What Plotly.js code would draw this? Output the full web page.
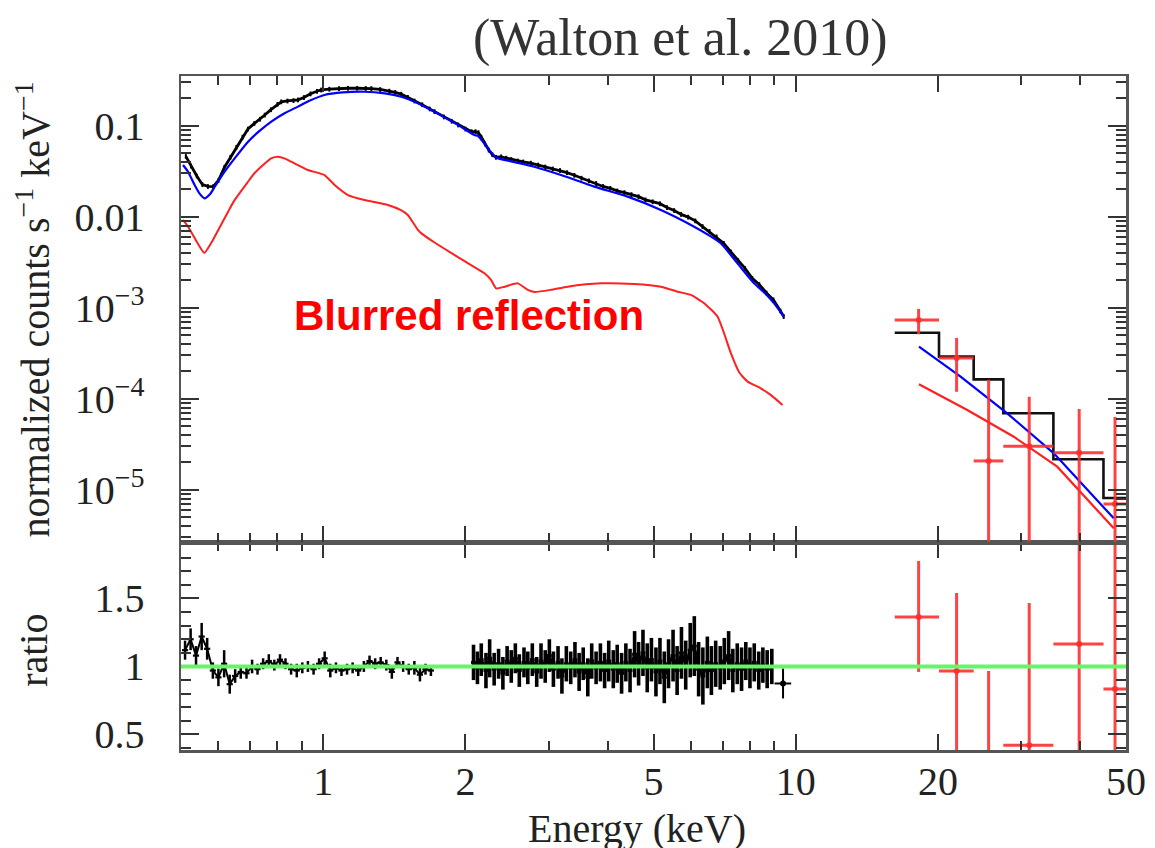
<!DOCTYPE html>
<html>
<head>
<meta charset="utf-8">
<script src="https://cdn.plot.ly/plotly-3.0.1.min.js"></script>
<style>html,body{margin:0;padding:0;background:#fff;}#chart{width:1155px;height:848px;}</style>
</head>
<body>
<div id="chart"></div>
<script>
// ---------- XMM data (top panel, counts) ----------
var xmmE = [0.512,0.525,0.540,0.555,0.570,0.585,0.600,0.618,0.636,0.655,0.675,0.693,0.715,0.735,0.752,0.775,0.800,0.815,0.840,0.865,0.884,0.910,0.940,0.970,0.990,1.030,1.080,1.128,1.180,1.230,1.264,1.320,1.380,1.420,1.462,1.510,1.560,1.620,1.680,1.720,1.800,1.870,1.930,2.000,2.060,2.100,2.130,2.160,2.200,2.240,2.280,2.320,2.380,2.440,2.500,2.580,2.650,2.750,2.850,2.950,3.060,3.170,3.280,3.400,3.520,3.650,3.780,3.910,4.050,4.190,4.340,4.490,4.650,4.810,4.980,5.160,5.340,5.530,5.720,5.920,6.130,6.350,6.570,6.800,7.040,7.290,7.550,7.810,8.090,8.370,8.670,8.970,9.280,9.430];
var xmmV = [0.046,0.036,0.028,0.0225,0.0215,0.0214,0.025,0.035,0.045,0.058,0.075,0.092,0.106,0.118,0.131,0.150,0.172,0.183,0.187,0.189,0.192,0.204,0.224,0.239,0.247,0.252,0.256,0.258,0.258,0.257,0.256,0.250,0.240,0.232,0.222,0.205,0.187,0.170,0.153,0.143,0.125,0.112,0.102,0.092,0.086,0.086,0.084,0.075,0.063,0.054,0.048,0.045,0.0455,0.0440,0.0425,0.0410,0.0400,0.0388,0.0370,0.0352,0.0335,0.0322,0.0305,0.0285,0.0265,0.0248,0.0232,0.0215,0.0205,0.0192,0.0184,0.0175,0.0166,0.0153,0.0146,0.0139,0.0126,0.0117,0.0106,0.0099,0.0090,0.0078,0.0069,0.0060,0.0051,0.0041,0.0033,0.0027,0.0021,0.0018,0.00145,0.00122,0.00092,0.0008];

// ---------- total model (blue) ----------
var modelE = [0.505,0.5174,0.535,0.548,0.561,0.575,0.590,0.6184,0.650,0.6933,0.730,0.7764,0.830,0.8841,0.940,1.006,1.100,1.223,1.350,1.462,1.560,1.719,1.927,2.089,2.124,2.170,2.230,2.300,2.341,2.500,2.797,3.185,3.746,4.409,5.183,6.096,6.500,6.939,7.528,8.163,8.600,8.998,9.447];
var modelV = [0.037,0.0312,0.022,0.0178,0.0159,0.0175,0.0215,0.0312,0.044,0.0667,0.086,0.111,0.138,0.162,0.190,0.2175,0.232,0.236,0.226,0.208,0.1835,0.1425,0.102,0.079,0.0775,0.068,0.0564,0.0465,0.0440,0.0405,0.0354,0.0287,0.0214,0.0166,0.01185,0.00777,0.0064,0.0051,0.003075,0.001854,0.00145,0.001118,0.000796];

// ---------- blurred reflection (red) ----------
var reflE = [0.505,0.518,0.540,0.560,0.580,0.600,0.629,0.648,0.693,0.715,0.750,0.776,0.802,0.830,0.856,0.928,1.006,1.060,1.128,1.223,1.370,1.460,1.510,1.588,1.611,1.720,1.865,2.000,2.190,2.265,2.322,2.420,2.580,2.710,2.800,3.030,3.290,3.870,4.550,5.180,5.620,6.000,6.400,6.830,7.055,7.290,7.590,7.910,8.430,8.850,9.375];
var reflV = [0.0092,0.0077,0.0053,0.0040,0.0052,0.0072,0.01135,0.0150,0.0242,0.0300,0.0380,0.0438,0.0456,0.0435,0.0402,0.0326,0.0287,0.0220,0.0173,0.01526,0.01344,0.0118,0.01044,0.0071,0.0066,0.0052,0.0040,0.0032,0.0024,0.00202,0.00163,0.0017,0.00185,0.00157,0.00149,0.00157,0.0017,0.00185,0.00182,0.0017,0.0015,0.00138,0.00112,0.00080,0.00052,0.000316,0.000195,0.000154,0.00013,0.00011,0.0000853];

// ---------- PIN (hard X-ray) ----------
var pinE    = [18.2, 21.9, 25.6, 31.2, 39.8, 47.4];
var pinXlo  = [16.2, 20.1, 23.8, 27.5, 35.1, 44.8];
var pinXhi  = [20.1, 23.8, 27.5, 35.1, 44.8, 56.0];
var pinV    = [7.33e-4, 2.8e-4, 2.07e-5, 3.0e-5, 2.55e-5, 6.97e-6];
var pinVhi  = [9.7e-4, 4.65e-4, 1.61e-4, 1.05e-4, 7.7e-5, 6.3e-5];
var pinVlo  = [5.1e-4, 1.19e-4, 1e-7, 1e-7, 1e-7, 1e-7];
var pinStepE = [16.2, 20.1, 23.8, 27.5, 35.1, 44.8, 56.0];
var pinStepV = [5.31e-4, 2.9e-4, 1.63e-4, 6.91e-5, 2.16e-5, 8.1e-6, 8.1e-6];
var pinModelE = [18.23, 22.33, 28.03, 35.17, 47.1];
var pinModelV = [3.73e-4, 1.75e-4, 6.9e-5, 2.51e-5, 4.85e-6];
var pinReflE = [18.23, 23.07, 28.94, 35.76, 47.1];
var pinReflV = [1.44e-4, 7.5e-5, 3.82e-5, 1.79e-5, 3.77e-6];
var pinRatio   = [1.364, 0.967, 0.13, 0.42, 1.165, 0.835];
var pinRatioHi = [1.776, 1.54, 0.967, 1.467, 3.5, 7.6];
var pinRatioLo = [0.96, -1, -1, -1, -1, -1];

// ---------- ratio (XMM) ----------
var ratioSoftE = [0.51,0.524,0.538,0.553,0.568,0.584,0.600,0.617,0.634,0.651,0.669,0.688,0.707,0.726,0.746,0.767,0.788,0.810,0.832,0.855,0.879,0.903,0.928,0.954,0.980,1.007,1.035,1.064,1.093,1.123,1.154,1.186,1.219,1.253,1.288,1.323,1.360,1.397,1.436,1.476,1.517,1.559,1.602,1.646,1.69];
var ratioSoftV = [1.12,1.20,1.08,1.22,1.13,0.97,0.92,1.02,0.87,0.93,0.96,0.95,1.00,0.98,1.02,1.04,1.01,1.05,1.02,0.98,0.97,0.99,1.00,0.98,1.02,1.06,0.97,0.99,0.97,0.98,0.99,0.97,1.00,1.04,1.02,1.03,1.01,0.96,1.03,1.00,0.98,0.99,0.94,0.98,0.97];
var ratioSoftErr = [0.07,0.08,0.07,0.10,0.08,0.06,0.065,0.10,0.07,0.05,0.05,0.04,0.05,0.04,0.04,0.05,0.04,0.04,0.04,0.04,0.05,0.04,0.04,0.04,0.04,0.05,0.05,0.04,0.04,0.04,0.04,0.04,0.04,0.04,0.04,0.04,0.04,0.05,0.04,0.04,0.04,0.05,0.05,0.04,0.04];
var ratioHardE = [2.08,2.12,2.16,2.21,2.25,2.30,2.35,2.40,2.45,2.50,2.55,2.60,2.66,2.71,2.77,2.83,2.89,2.95,3.01,3.07,3.14,3.20,3.27,3.34,3.41,3.48,3.55,3.63,3.70,3.78,3.86,3.94,4.02,4.11,4.19,4.28,4.37,4.46,4.56,4.65,4.75,4.85,4.95,5.06,5.16,5.27,5.38,5.50,5.61,5.73,5.85,5.98,6.10,6.23,6.36,6.50,6.63,6.77,6.92,7.06,7.21,7.36,7.52,7.68,7.84,8.00,8.17,8.35,8.52,8.70,8.90];
var ratioHardV = [1.03,0.99,1.05,0.97,1.06,0.98,1.02,0.95,1.04,1.00,1.06,0.97,1.03,0.99,1.05,0.96,1.04,1.00,1.08,0.98,1.03,0.93,1.02,0.99,1.05,0.96,1.02,0.92,1.04,0.99,1.03,0.97,1.04,0.98,1.02,0.95,1.03,0.97,1.09,1.02,1.10,0.99,1.05,0.96,1.04,0.92,1.02,1.08,0.97,1.10,1.01,1.12,1.15,0.98,0.93,1.03,0.97,1.02,0.99,1.04,1.08,0.97,1.02,0.98,1.04,0.99,1.03,0.97,1.01,0.98,1.00];
var ratioHardErr = [0.13,0.12,0.12,0.13,0.14,0.12,0.11,0.12,0.11,0.12,0.11,0.12,0.11,0.12,0.12,0.11,0.13,0.12,0.12,0.13,0.12,0.13,0.13,0.12,0.13,0.14,0.12,0.14,0.13,0.12,0.14,0.13,0.15,0.14,0.14,0.15,0.14,0.16,0.17,0.16,0.17,0.18,0.16,0.18,0.17,0.19,0.18,0.19,0.18,0.19,0.18,0.20,0.22,0.20,0.21,0.19,0.18,0.17,0.16,0.17,0.18,0.16,0.15,0.16,0.14,0.15,0.14,0.14,0.13,0.14,0.13];
var ratioLastE = [9.40], ratioLastV = [0.875], ratioLastErr = [0.11], ratioLastXErr = [0.38];

// ---------- ticks ----------
var xTicks = [1, 2, 5, 10, 20, 50];
var xTickText = ['1', '2', '5', '10', '20', '50'];
var xMinor = [0.6, 0.7, 0.8, 0.9, 3, 4, 6, 7, 8, 9, 30, 40];
var yTopTicks = [1e-5, 1e-4, 1e-3, 0.01, 0.1];
var yTopText = ['10<sup>\u22125</sup>', '10<sup>\u22124</sup>', '10<sup>\u22123</sup>', '0.01', '0.1'];
var yTopMinor = [3e-6,4e-6,5e-6,6e-6,7e-6,8e-6,9e-6,2e-5,3e-5,4e-5,5e-5,6e-5,7e-5,8e-5,9e-5,2e-4,3e-4,4e-4,5e-4,6e-4,7e-4,8e-4,9e-4,2e-3,3e-3,4e-3,5e-3,6e-3,7e-3,8e-3,9e-3,0.02,0.03,0.04,0.05,0.06,0.07,0.08,0.09,0.2,0.3];
var yBotTicks = [0.5, 1, 1.5];
var yBotText = ['0.5', '1', '1.5'];
var yBotMinor = [0.4,0.6,0.7,0.8,0.9,1.1,1.2,1.3,1.4,1.6,1.7,1.8,1.9];

function diff(a, b) { return a.map(function (v, i) { return v - b[i]; }); }

var RED = '#ff2020', PINRED = 'rgba(255,45,45,0.9)', BLUE = '#0000ff';

var traces = [
  // top panel
  {x: xmmE, y: xmmV, xaxis: 'x2', yaxis: 'y2', mode: 'lines', line: {color: '#000', width: 2.8},
   error_y: {type: 'percent', value: 6, color: '#000', thickness: 2, width: 0}},
  {x: modelE, y: modelV, xaxis: 'x2', yaxis: 'y2', mode: 'lines', line: {color: BLUE, width: 2.2, shape: 'spline', smoothing: 0.6}},
  {x: reflE, y: reflV, xaxis: 'x2', yaxis: 'y2', mode: 'lines', line: {color: RED, width: 2, shape: 'spline', smoothing: 0.5}},
  {x: pinStepE, y: pinStepV, xaxis: 'x2', yaxis: 'y2', mode: 'lines', line: {color: '#111', width: 2.6, shape: 'hv'}},
  {x: pinModelE, y: pinModelV, xaxis: 'x2', yaxis: 'y2', mode: 'lines', line: {color: BLUE, width: 2.2}},
  {x: pinReflE, y: pinReflV, xaxis: 'x2', yaxis: 'y2', mode: 'lines', line: {color: RED, width: 2.2}},
  {x: pinE, y: pinV, xaxis: 'x2', yaxis: 'y2', mode: 'markers', marker: {size: 0, color: PINRED},
   error_x: {type: 'data', array: diff(pinXhi, pinE), arrayminus: diff(pinE, pinXlo), color: PINRED, thickness: 3, width: 0},
   error_y: {type: 'data', array: diff(pinVhi, pinV), arrayminus: diff(pinV, pinVlo), color: PINRED, thickness: 3, width: 0}},
  // bottom panel
  {x: ratioSoftE, y: ratioSoftV, xaxis: 'x', yaxis: 'y', mode: 'lines', line: {color: '#000', width: 2},
   error_y: {type: 'data', array: ratioSoftErr, color: '#000', thickness: 2.5, width: 0},
   error_x: {type: 'percent', value: 1.5, color: '#000', thickness: 2.2, width: 0}},
  {x: ratioHardE, y: ratioHardV, xaxis: 'x', yaxis: 'y', mode: 'lines', line: {color: '#000', width: 3},
   error_y: {type: 'data', array: ratioHardErr, color: '#000', thickness: 3.6, width: 0},
   error_x: {type: 'percent', value: 1.2, color: '#000', thickness: 3, width: 0}},
  {x: ratioLastE, y: ratioLastV, xaxis: 'x', yaxis: 'y', mode: 'markers', marker: {size: 0, color: '#000'},
   error_y: {type: 'data', array: ratioLastErr, color: '#000', thickness: 2, width: 0},
   error_x: {type: 'data', array: ratioLastXErr, color: '#000', thickness: 2, width: 0}},
  {x: pinE, y: pinRatio, xaxis: 'x', yaxis: 'y', mode: 'markers', marker: {size: 0, color: PINRED},
   error_x: {type: 'data', array: diff(pinXhi, pinE), arrayminus: diff(pinE, pinXlo), color: PINRED, thickness: 3, width: 0},
   error_y: {type: 'data', array: diff(pinRatioHi, pinRatio), arrayminus: diff(pinRatio, pinRatioLo), color: PINRED, thickness: 3, width: 0}}
];

var serif = 'Liberation Serif, Times New Roman, serif';
var tickFont = {family: serif, size: 40, color: '#222'};

function xAxis(anchor, labels) {
  return {
    type: 'log', range: [Math.log10(0.5), Math.log10(50)], anchor: anchor,
    tickmode: 'array', tickvals: xTicks, ticktext: xTickText, showticklabels: labels,
    ticks: 'inside', ticklen: 16, tickwidth: 2, tickcolor: '#333',
    minor: {tickmode: 'array', tickvals: xMinor, ticks: 'inside', ticklen: 9, tickwidth: 2, tickcolor: '#333'},
    showline: true, linecolor: '#555', linewidth: 2.5, mirror: 'ticks',
    showgrid: false, zeroline: false, tickfont: tickFont, ticklabelstandoff: -6
  };
}

var layout = {
  width: 1155, height: 848,
  margin: {l: 181, r: 29, t: 76, b: 98},
  paper_bgcolor: '#fff', plot_bgcolor: '#fff',
  showlegend: false,
  title: {text: '(Walton et al. 2010)', font: {family: serif, size: 52, color: '#333'},
          x: 0.589, xanchor: 'center', y: 0.957, yanchor: 'middle'},
  xaxis: xAxis('y', true),
  xaxis2: xAxis('y2', false),
  yaxis: {
    domain: [0, 0.3086], range: [0.386, 1.915], anchor: 'x',
    tickmode: 'array', tickvals: yBotTicks, ticktext: yBotText,
    ticks: 'inside', ticklen: 18, tickwidth: 2, tickcolor: '#333',
    minor: {tickmode: 'array', tickvals: yBotMinor, ticks: 'inside', ticklen: 10, tickwidth: 2, tickcolor: '#333'},
    showline: true, linecolor: '#555', linewidth: 2.5, mirror: 'ticks',
    showgrid: false, zeroline: false, tickfont: tickFont, ticklabelstandoff: 26
  },
  yaxis2: {
    domain: [0.3086, 1], type: 'log', range: [-5.575, -0.454], anchor: 'x2',
    tickmode: 'array', tickvals: yTopTicks, ticktext: yTopText,
    ticks: 'inside', ticklen: 18, tickwidth: 2, tickcolor: '#333',
    minor: {tickmode: 'array', tickvals: yTopMinor, ticks: 'inside', ticklen: 10, tickwidth: 2, tickcolor: '#333'},
    showline: true, linecolor: '#555', linewidth: 2.5, mirror: 'ticks',
    showgrid: false, zeroline: false, tickfont: tickFont, ticklabelstandoff: 26
  },
  shapes: [
    {type: 'line', xref: 'paper', x0: 0, x1: 1, yref: 'y', y0: 1, y1: 1,
     line: {color: '#66f566', width: 4}, layer: 'above'}
  ],
  annotations: [
    {text: 'Blurred reflection', xref: 'paper', yref: 'paper', x: 0.3048, y: 0.6454,
     xanchor: 'center', yanchor: 'middle', showarrow: false,
     font: {family: 'Liberation Sans, Arial, sans-serif', size: 42, color: '#ff0000', weight: 'bold'}},
    {text: 'normalized counts s<sup>\u22121</sup> keV<sup>\u22121</sup>', xref: 'paper', yref: 'paper',
     x: -0.156, y: 0.653, xanchor: 'center', yanchor: 'middle', textangle: -90, showarrow: false,
     font: {family: serif, size: 40, color: '#222'}},
    {text: 'ratio', xref: 'paper', yref: 'paper', x: -0.156, y: 0.148,
     xanchor: 'center', yanchor: 'middle', textangle: -90, showarrow: false,
     font: {family: serif, size: 40, color: '#222'}},
    {text: 'Energy (keV)', xref: 'paper', yref: 'paper', x: 0.4825, y: -0.117,
     xanchor: 'center', yanchor: 'middle', showarrow: false,
     font: {family: serif, size: 40, color: '#222'}}
  ]
};

Plotly.newPlot('chart', traces, layout, {staticPlot: true, displayModeBar: false});
</script>
</body>
</html>
